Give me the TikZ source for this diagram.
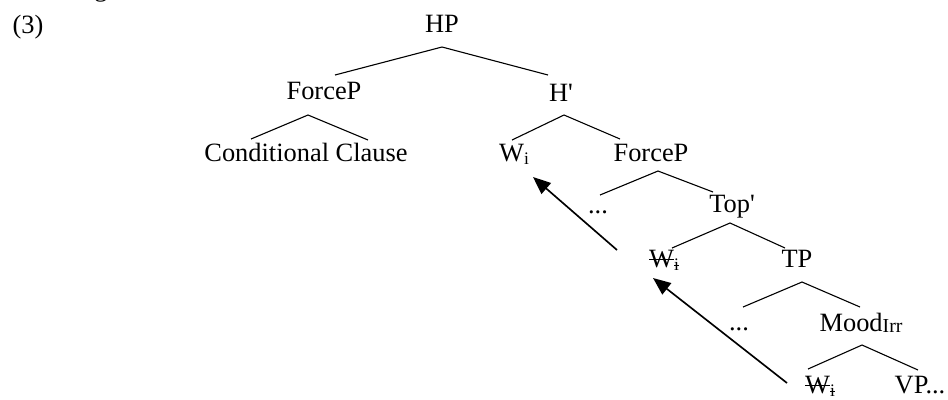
\documentclass[tikz,border=0pt]{standalone}
\usepackage{fontspec}
\setmainfont{Liberation Serif}
\usetikzlibrary{arrows.meta}

% struck-through text (a trace), the line set at about a quarter em
\newcommand\strk[1]{\setbox0\hbox{#1}\rlap{\rule[0.27em]{\wd0}{0.05em}}\box0}
% lowered, smaller subscript
\newcommand\subtxt[1]{\raisebox{-0.14em}{\fontsize{8}{8}\selectfont #1}}
\newcommand\trace{\strk{W}\subtxt{\strk{i}}}
% straight prime for bar levels
\newcommand\barlvl{\textquotesingle}

\begin{document}
\begin{tikzpicture}[
  x=0.4545pt, y=-0.4545pt,
  every node/.style={inner sep=0pt, anchor=base, font=\fontsize{12}{14}\selectfont},
  branch/.style={line width=0.5pt},
  move/.style={line width=0.75pt, -{Triangle[length=8pt,width=6.5pt]}}
]
\useasboundingbox (0,0) rectangle (948,399);

% descender of the preceding line, cut by the top edge
\begin{scope}
  \clip (0,0) rectangle (948,399);
  \node (prev) at (101,-4) {g};
\end{scope}

% labels
\node (ex)     at (28,33)   {(3)};
\node (hp)     at (442,32)  {HP};
\node (forceA) at (324,99)  {ForceP};
\node (hbar)   at (561,101) {H\barlvl};
\node (cond)   at (306,161) {Conditional Clause};
\node (w1)     at (514,161) {W\subtxt{i}};
\node (forceB) at (651,161) {ForceP};
\node (dotsA)  at (598,213) {...};
\node (topbar) at (732,212) {Top\barlvl};
\node (w2)     at (664,267) {\trace};
\node (tp)     at (797,267) {TP};
\node (dotsB)  at (739,330) {...};
\node (mood)   at (861,331) {Mood\raisebox{-0.05em}{\fontsize{9}{9}\selectfont Irr}};
\node (w3)     at (820,393) {\trace};
\node (vp)     at (920,393) {VP...};

% branch points
\coordinate (hp-t) at (442,47);  \coordinate (hp-l) at (335,75);  \coordinate (hp-r) at (548,75);
\coordinate (fa-t) at (308,115); \coordinate (fa-l) at (251,139); \coordinate (fa-r) at (368,140);
\coordinate (hb-t) at (564,115); \coordinate (hb-l) at (512,140); \coordinate (hb-r) at (620,139);
\coordinate (fb-t) at (658,171); \coordinate (fb-l) at (600,195); \coordinate (fb-r) at (713,192);
\coordinate (tb-t) at (730,223); \coordinate (tb-l) at (672,248); \coordinate (tb-r) at (785,248);
\coordinate (tp-t) at (802,282); \coordinate (tp-l) at (743,307); \coordinate (tp-r) at (860,307);
\coordinate (md-t) at (862,345); \coordinate (md-l) at (808,369); \coordinate (md-r) at (918,370);

\draw[branch] (hp-l) -- (hp-t) -- (hp-r);
\draw[branch] (fa-l) -- (fa-t) -- (fa-r);
\draw[branch] (hb-l) -- (hb-t) -- (hb-r);
\draw[branch] (fb-l) -- (fb-t) -- (fb-r);
\draw[branch] (tb-l) -- (tb-t) -- (tb-r);
\draw[branch] (tp-l) -- (tp-t) -- (tp-r);
\draw[branch] (md-l) -- (md-t) -- (md-r);

% movement arrows
\coordinate (mv1-s) at (617,250); \coordinate (mv1-e) at (533,177);
\coordinate (mv2-s) at (787,383); \coordinate (mv2-e) at (653,278);
\draw[move] (mv1-s) -- (mv1-e);
\draw[move] (mv2-s) -- (mv2-e);
\end{tikzpicture}
\end{document}
